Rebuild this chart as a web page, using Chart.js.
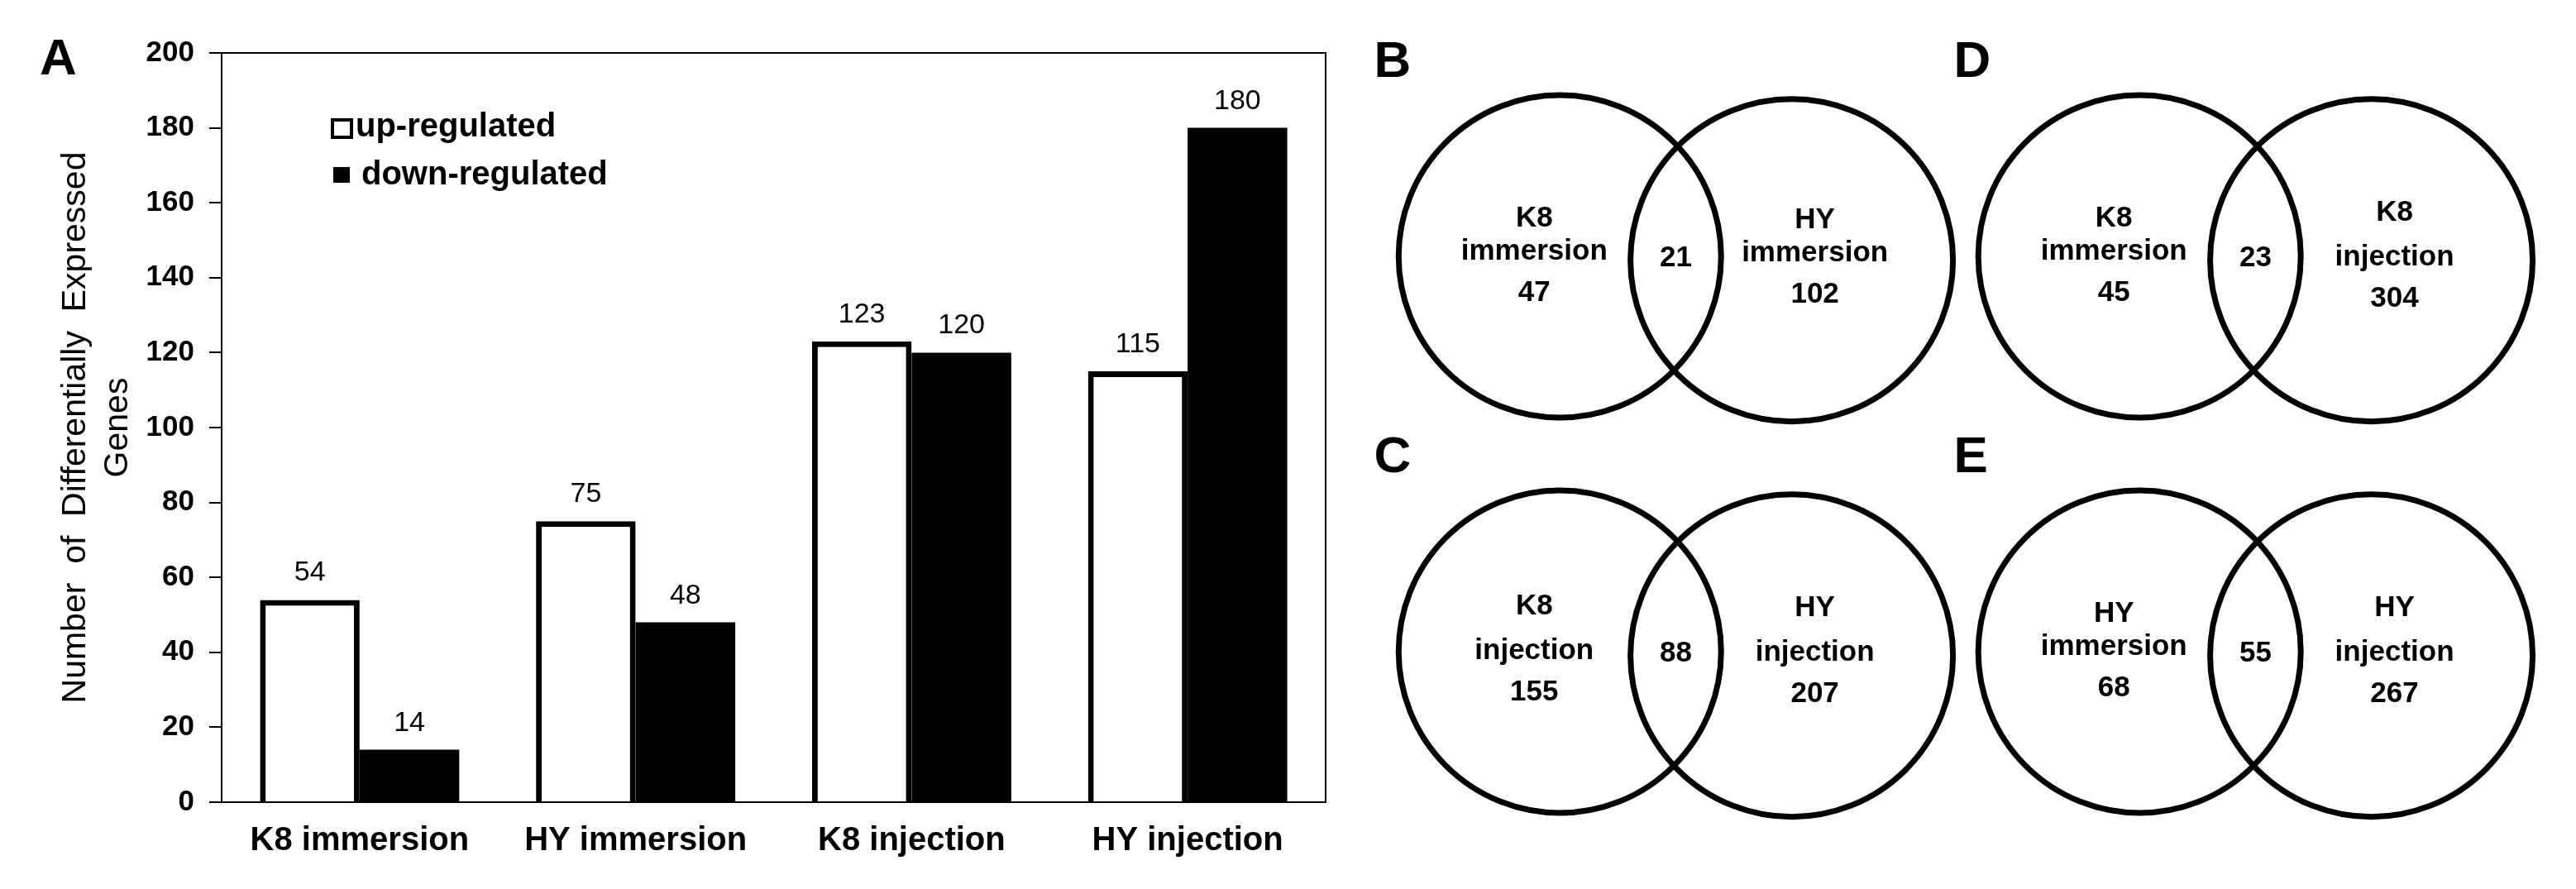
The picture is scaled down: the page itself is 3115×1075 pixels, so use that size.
<!DOCTYPE html>
<html>
<head>
<meta charset="utf-8">
<script src="https://cdn.jsdelivr.net/npm/chart.js@4.4.1/dist/chart.umd.min.js"></script>
<style>
  html, body { margin: 0; padding: 0; background: #fff; }
  #wrap { position: relative; width: 3115px; height: 1075px; overflow: hidden; background: #fff; }
  #bar-chart { position: absolute; left: 0; top: 0; }
  #venn-chart { position: absolute; left: 1615px; top: 0; }
</style>
</head>
<body>
<div id="wrap">
  <canvas id="bar-chart" width="1640" height="1075"></canvas>
  <canvas id="venn-chart" width="1500" height="1075"></canvas>
</div>
<script>
// ---- bar chart data (panel A)
const categories = ['K8 immersion', 'HY immersion', 'K8 injection', 'HY injection'];
const upRegulated = [54, 75, 123, 115];
const downRegulated = [14, 48, 120, 180];
const seriesNames = ['up-regulated', 'down-regulated'];
const yMin = 0;
const yMax = 200;
const yStep = 20;
const yTitle = ['Number  of  Differentially  Expressed', 'Genes'];

// ---- venn data (panels B..E)
const vennPanels = ['B', 'C', 'D', 'E'];
const vennLeftSet = [['K8', 'immersion'], ['K8', 'injection'], ['K8', 'immersion'], ['HY', 'immersion']];
const vennRightSet = [['HY', 'immersion'], ['HY', 'injection'], ['K8', 'injection'], ['HY', 'injection']];
const vennLeftOnly = [47, 155, 45, 68];
const vennShared = [21, 88, 23, 55];
const vennRightOnly = [102, 207, 304, 267];

const FONT = "'Liberation Sans', Arial, sans-serif";
Chart.defaults.font.family = FONT;
Chart.defaults.color = '#000';

// numbers above the bars
const barLabels = {
  id: 'barLabels',
  afterDatasetsDraw(chart) {
    const ctx = chart.ctx;
    ctx.save();
    ctx.font = '34px ' + FONT;
    ctx.fillStyle = '#000';
    ctx.textAlign = 'center';
    ctx.textBaseline = 'alphabetic';
    chart.data.datasets.forEach((ds, i) => {
      chart.getDatasetMeta(i).data.forEach((bar, j) => {
        ctx.fillText(ds.data[j], bar.x, bar.y - 23);
      });
    });
    ctx.restore();
  }
};

// top/right frame, legend inside the plot, panel letter
const frameAndLegend = {
  id: 'frameAndLegend',
  afterDraw(chart) {
    const ctx = chart.ctx;
    const a = chart.chartArea;
    const ds = chart.data.datasets;
    ctx.save();
    ctx.strokeStyle = '#000';
    ctx.lineWidth = 2;
    ctx.beginPath();
    ctx.moveTo(a.left, a.top);
    ctx.lineTo(a.right, a.top);
    ctx.lineTo(a.right, a.bottom);
    ctx.stroke();

    ctx.font = 'bold 40px ' + FONT;
    ctx.textAlign = 'left';
    ctx.textBaseline = 'alphabetic';
    ctx.fillStyle = ds[0].backgroundColor;
    ctx.fillRect(a.left + 134, a.top + 81, 23, 21);
    ctx.lineWidth = 4;
    ctx.strokeRect(a.left + 134, a.top + 81, 23, 21);
    ctx.fillStyle = '#000';
    ctx.fillText(ds[0].label, a.left + 162, a.top + 101);
    ctx.fillStyle = ds[1].backgroundColor;
    ctx.fillRect(a.left + 135, a.top + 138, 20, 19);
    ctx.fillStyle = '#000';
    ctx.fillText(ds[1].label, a.left + 169, a.top + 159);

    ctx.font = 'bold 62px ' + FONT;
    ctx.fillText('A', 48, 90);
    ctx.restore();
  }
};

barChart();
function barChart(){
  const ctx = document.getElementById('bar-chart').getContext('2d');
  new Chart(ctx, {
    type: 'bar',
    data: {
      labels: categories,
      datasets: [{
        label: seriesNames[0],
        data: upRegulated,
        backgroundColor: '#fff',
        borderColor: '#000',
        borderWidth: 7,
        borderSkipped: 'start',
        categoryPercentage: 0.722,
        barPercentage: 1
      }, {
        label: seriesNames[1],
        data: downRegulated,
        backgroundColor: '#000',
        borderWidth: 0,
        categoryPercentage: 0.722,
        barPercentage: 1
      }]
    },
    options: {
      responsive: false,
      animation: false,
      devicePixelRatio: 1,
      events: [],
      layout: { padding: { top: 64, right: 37, bottom: 0, left: 0 } },
      plugins: { legend: { display: false }, tooltip: { enabled: false } },
      scales: {
        x: {
          grid: { display: false, drawTicks: false },
          border: { display: true, color: '#000', width: 2 },
          ticks: { font: { size: 40, weight: 'bold' }, padding: 23, color: '#000', maxRotation: 0, autoSkip: false },
          afterFit: (s) => { s.height = 105; }
        },
        y: {
          min: yMin,
          max: yMax,
          ticks: { stepSize: yStep, font: { size: 35, weight: 'bold' }, padding: 18, color: '#000' },
          grid: { drawOnChartArea: false, tickLength: 15, color: '#000', lineWidth: 2 },
          border: { display: true, color: '#000', width: 2 },
          title: {
            display: true,
            text: yTitle,
            color: '#000',
            font: { size: 41, lineHeight: 1.25 },
            padding: { top: 66, bottom: 0 }
          },
          afterFit: (s) => { s.width = 268; }
        }
      }
    },
    plugins: [barLabels, frameAndLegend]
  });
}

// ---- venn diagrams: each circle is a scatter point, panels on a 2x2 grid
const circleOffset = 0.2;
// baseline offsets of the three text lines (name, name, count) around the row centre
const immersionLines = [-36, 4, 54];
const injectionLines = [-45, 9, 59];

const vennText = {
  id: 'vennText',
  afterDatasetsDraw(chart) {
    const ctx = chart.ctx;
    const xs = chart.scales.x;
    const ys = chart.scales.y;
    ctx.save();
    ctx.fillStyle = '#000';
    ctx.textBaseline = 'alphabetic';
    vennPanels.forEach((p, i) => {
      const col = Math.floor(i / 2);
      const row = i % 2;
      const cx = xs.getPixelForValue(col);
      const cy = ys.getPixelForValue(row);
      const lx = xs.getPixelForValue(col - circleOffset) - 31;
      const rx = xs.getPixelForValue(col + circleOffset) + 28;

      ctx.font = 'bold 62px ' + FONT;
      ctx.textAlign = 'left';
      ctx.fillText(p, cx - 365, cy - 217);

      ctx.font = 'bold 35px ' + FONT;
      ctx.textAlign = 'center';
      const leftLines = vennLeftSet[i][1] == 'injection' ? injectionLines : immersionLines;
      const rightLines = vennRightSet[i][1] == 'injection' ? injectionLines : immersionLines;
      vennLeftSet[i].concat([vennLeftOnly[i]]).forEach((t, k) => {
        ctx.fillText(t, lx, cy + leftLines[k]);
      });
      vennRightSet[i].concat([vennRightOnly[i]]).forEach((t, k) => {
        ctx.fillText(t, rx, cy + rightLines[k] + 2);
      });
      ctx.fillText(vennShared[i], cx, cy + 12);
    });
    ctx.restore();
  }
};

vennChart();
function vennChart(){
  const points = [];
  vennPanels.forEach((p, i) => {
    const col = Math.floor(i / 2);
    const row = i % 2;
    points.push({ x: col - circleOffset, y: row });
    points.push({ x: col + circleOffset, y: row + 0.01 });
  });
  const ctx = document.getElementById('venn-chart').getContext('2d');
  new Chart(ctx, {
    type: 'scatter',
    data: {
      datasets: [{
        data: points,
        pointRadius: 195,
        pointBorderWidth: 7,
        pointBackgroundColor: 'rgba(0,0,0,0)',
        pointBorderColor: '#000',
        showLine: false,
        clip: false
      }]
    },
    options: {
      responsive: false,
      animation: false,
      devicePixelRatio: 1,
      events: [],
      layout: { padding: 0, autoPadding: false },
      plugins: { legend: { display: false }, tooltip: { enabled: false } },
      scales: {
        x: { type: 'linear', display: false, min: -0.587, max: 1.553 },
        y: { type: 'linear', display: false, min: -0.6485, max: 1.6004, reverse: true }
      }
    },
    plugins: [vennText]
  });
}
</script>
</body>
</html>
